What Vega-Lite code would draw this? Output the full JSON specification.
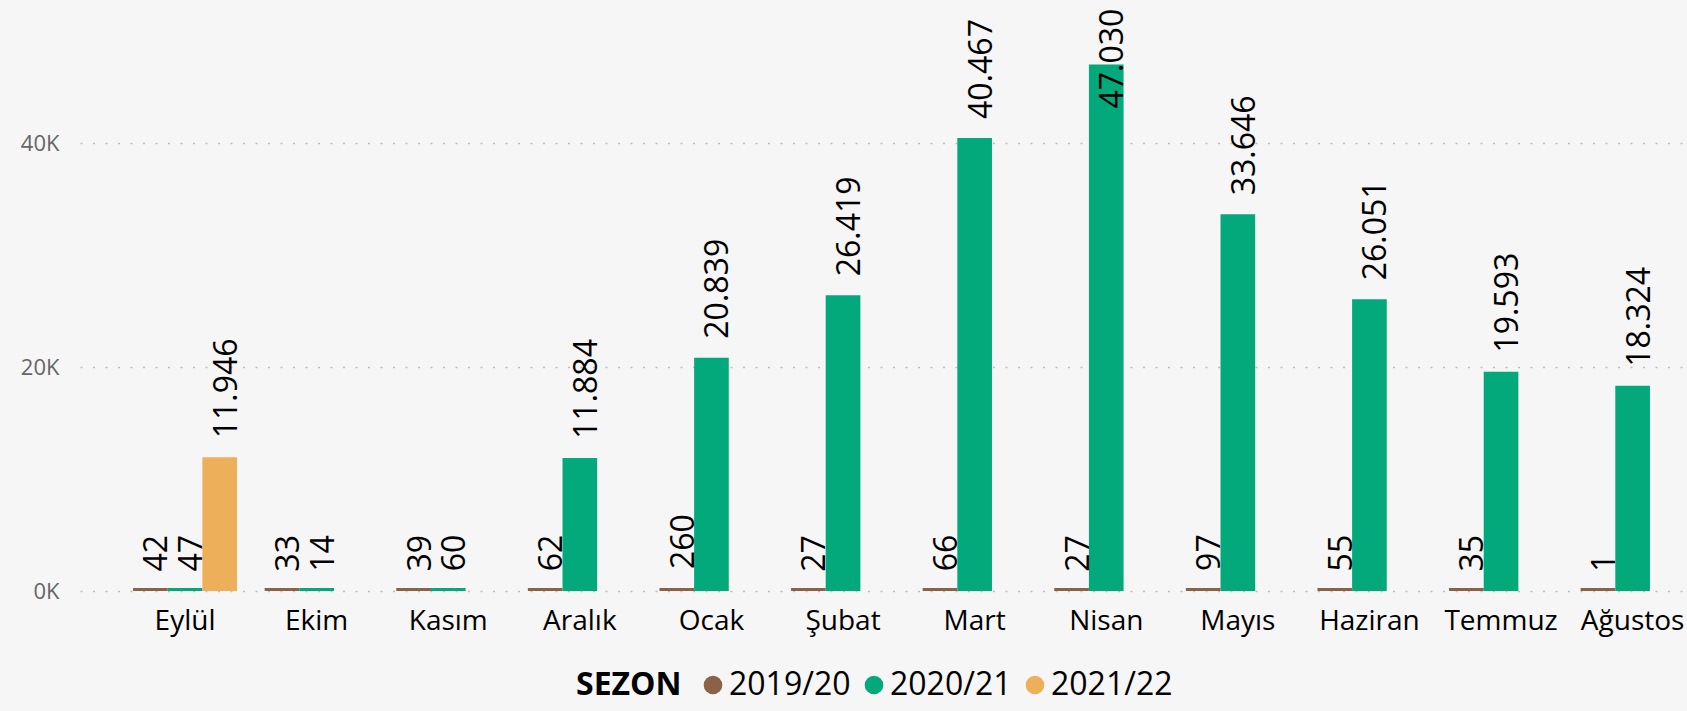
{
  "$schema": "https://vega.github.io/schema/vega-lite/v6.json",
  "width": 1607,
  "height": 591,
  "autosize": {"type": "none"},
  "padding": {"left": 80, "top": 0, "right": 0, "bottom": 120},
  "background": "#f6f6f6",
  "config": {
    "locale": {"number": {"decimal": ",", "thousands": ".", "grouping": [3], "currency": ["₺", ""]}},
    "font": "Open Sans",
    "view": {"stroke": null}
  },
  "data": {
    "values": [
      {"ay": "Eylül", "sezon": "2019/20", "value": 42},
      {"ay": "Eylül", "sezon": "2020/21", "value": 47},
      {"ay": "Eylül", "sezon": "2021/22", "value": 11946},
      {"ay": "Ekim", "sezon": "2019/20", "value": 33},
      {"ay": "Ekim", "sezon": "2020/21", "value": 14},
      {"ay": "Kasım", "sezon": "2019/20", "value": 39},
      {"ay": "Kasım", "sezon": "2020/21", "value": 60},
      {"ay": "Aralık", "sezon": "2019/20", "value": 62},
      {"ay": "Aralık", "sezon": "2020/21", "value": 11884},
      {"ay": "Ocak", "sezon": "2019/20", "value": 260},
      {"ay": "Ocak", "sezon": "2020/21", "value": 20839},
      {"ay": "Şubat", "sezon": "2019/20", "value": 27},
      {"ay": "Şubat", "sezon": "2020/21", "value": 26419},
      {"ay": "Mart", "sezon": "2019/20", "value": 66},
      {"ay": "Mart", "sezon": "2020/21", "value": 40467},
      {"ay": "Nisan", "sezon": "2019/20", "value": 27},
      {"ay": "Nisan", "sezon": "2020/21", "value": 47030},
      {"ay": "Mayıs", "sezon": "2019/20", "value": 97},
      {"ay": "Mayıs", "sezon": "2020/21", "value": 33646},
      {"ay": "Haziran", "sezon": "2019/20", "value": 55},
      {"ay": "Haziran", "sezon": "2020/21", "value": 26051},
      {"ay": "Temmuz", "sezon": "2019/20", "value": 35},
      {"ay": "Temmuz", "sezon": "2020/21", "value": 19593},
      {"ay": "Ağustos", "sezon": "2019/20", "value": 1},
      {"ay": "Ağustos", "sezon": "2020/21", "value": 18324}
    ]
  },
  "encoding": {
    "x": {
      "field": "ay",
      "type": "nominal",
      "sort": ["Eylül", "Ekim", "Kasım", "Aralık", "Ocak", "Şubat", "Mart", "Nisan", "Mayıs", "Haziran", "Temmuz", "Ağustos"],
      "scale": {"paddingInner": 0.21, "paddingOuter": 0.2107, "align": 0.957},
      "axis": {"title": null, "labelAngle": 0, "domain": false, "ticks": false, "grid": false, "labelFontSize": 28, "labelColor": "black", "labelPadding": 16}
    },
    "xOffset": {
      "field": "sezon",
      "type": "nominal",
      "scale": {"domain": ["2019/20", "2020/21", "2021/22"], "paddingInner": 0, "paddingOuter": 0}
    },
    "y": {
      "field": "value",
      "type": "quantitative",
      "stack": null,
      "scale": {"domain": [0, 52790], "nice": false, "zero": true},
      "axis": {
        "title": null,
        "values": [0, 20000, 40000],
        "labelExpr": "(datum.value / 1000) + 'K'",
        "domain": false,
        "ticks": false,
        "labelPadding": 21,
        "labelFontSize": 22,
        "labelColor": "#666666",
        "gridColor": "#bdbdbd",
        "gridDash": [2, 10.5],
        "gridWidth": 1.5
      }
    }
  },
  "layer": [
    {
      "mark": {"type": "bar", "yOffset": {"expr": "-max(0, 3 - datum.value * 591 / 52790)"}},
      "encoding": {
        "color": {
          "field": "sezon",
          "type": "nominal",
          "scale": {"domain": ["2019/20", "2020/21", "2021/22"], "range": ["#8B6246", "#04A97B", "#EEAF5B"]},
          "legend": {
            "orient": "none",
            "legendX": 496,
            "legendY": 669,
            "direction": "horizontal",
            "title": "SEZON",
            "titleOrient": "left",
            "titleFontSize": 32,
            "titleFontWeight": "bold",
            "titleColor": "black",
            "titlePadding": 15,
            "labelFontSize": 32,
            "labelColor": "black",
            "symbolType": "circle",
            "symbolSize": 346,
            "symbolStrokeWidth": 0,
            "symbolOpacity": 1,
            "labelOffset": 0,
            "columnPadding": 7
          }
        }
      }
    },
    {
      "mark": {
        "type": "text",
        "angle": -90,
        "align": "left",
        "baseline": "alphabetic",
        "dx": {"expr": "datum.value > 45000 ? -44 : 19"},
        "dy": 17,
        "fontSize": 32,
        "color": "black"
      },
      "encoding": {
        "text": {"field": "value", "type": "quantitative", "format": ",d"}
      }
    }
  ]
}
